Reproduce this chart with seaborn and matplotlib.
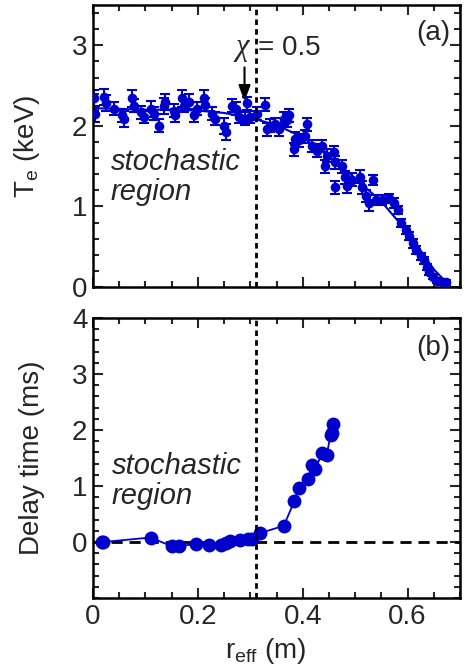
import numpy as np
import pandas as pd
import matplotlib
matplotlib.use("Agg")
import matplotlib.pyplot as plt
import seaborn as sns
from matplotlib.ticker import MultipleLocator, FuncFormatter, FixedLocator

sns.set_theme(style="ticks")
plt.rcParams['font.family'] = ['Liberation Sans', 'DejaVu Sans']
plt.rcParams['mathtext.fontset'] = 'custom'
plt.rcParams['mathtext.rm'] = 'Liberation Sans'
plt.rcParams['mathtext.it'] = 'Liberation Sans:italic'

# ---- panel (a): electron temperature profile ----
te_r = [0.002, 0.004, 0.021, 0.024, 0.040, 0.056, 0.059, 0.075, 0.078, 0.091,
        0.097, 0.110, 0.116, 0.126, 0.135, 0.138, 0.154, 0.157, 0.170, 0.173,
        0.183, 0.192, 0.198, 0.211, 0.213, 0.227, 0.233, 0.250, 0.253, 0.265,
        0.272, 0.278, 0.290, 0.294, 0.300, 0.313, 0.329, 0.332, 0.338, 0.348,
        0.354, 0.364, 0.370, 0.373, 0.383, 0.386, 0.392, 0.405, 0.408, 0.418,
        0.427, 0.437, 0.443, 0.446, 0.459, 0.462, 0.462, 0.475, 0.481, 0.484,
        0.494, 0.510, 0.513, 0.520, 0.527, 0.535, 0.540, 0.552, 0.565, 0.575,
        0.581, 0.587, 0.597, 0.603, 0.610, 0.616, 0.625, 0.632, 0.638, 0.641,
        0.648, 0.657, 0.667, 0.674]
te_val = [2.34, 2.15, 2.36, 2.28, 2.21, 2.13, 2.09, 2.34, 2.25, 2.17,
          2.11, 2.21, 2.15, 2.00, 2.25, 2.30, 2.19, 2.13, 2.34, 2.25,
          2.30, 2.13, 2.21, 2.34, 2.26, 2.15, 2.09, 2.00, 1.92, 2.25,
          2.21, 2.11, 2.09, 2.28, 2.11, 2.15, 2.26, 1.96, 2.00, 2.02,
          1.96, 2.09, 2.07, 2.13, 1.71, 1.84, 1.82, 1.87, 2.02, 1.75,
          1.69, 1.75, 1.50, 1.63, 1.67, 1.55, 1.24, 1.50, 1.36, 1.25,
          1.33, 1.37, 1.24, 1.13, 1.04, 1.33, 1.08, 1.08, 1.10, 1.04,
          0.96, 0.80, 0.71, 0.63, 0.54, 0.46, 0.38, 0.33, 0.25, 0.19,
          0.13, 0.08, 0.06, 0.06]
te_err = [0.10, 0.10, 0.10, 0.10, 0.08, 0.08, 0.10, 0.10, 0.08, 0.08,
          0.08, 0.10, 0.08, 0.08, 0.10, 0.10, 0.08, 0.08, 0.10, 0.08,
          0.10, 0.08, 0.08, 0.10, 0.08, 0.08, 0.08, 0.10, 0.10, 0.08,
          0.08, 0.08, 0.08, 0.08, 0.08, 0.08, 0.08, 0.08, 0.08, 0.08,
          0.08, 0.08, 0.08, 0.08, 0.08, 0.08, 0.08, 0.08, 0.08, 0.08,
          0.08, 0.08, 0.08, 0.08, 0.08, 0.08, 0.08, 0.08, 0.08, 0.08,
          0.08, 0.08, 0.08, 0.08, 0.10, 0.06, 0.06, 0.06, 0.06, 0.06,
          0.05, 0.05, 0.05, 0.05, 0.05, 0.05, 0.04, 0.04, 0.04, 0.04,
          0.03, 0.03, 0.03, 0.03]
fit_r = [0.0, 0.05, 0.10, 0.15, 0.20, 0.25, 0.30, 0.35, 0.40, 0.45, 0.50, 0.55, 0.60, 0.65, 0.675]
fit_val = [2.22, 2.21, 2.20, 2.20, 2.19, 2.16, 2.10, 2.01, 1.86, 1.62, 1.35, 1.06, 0.68, 0.22, 0.05]

# ---- panel (b): delay time ----
dl_r = [0.018, 0.020, 0.110, 0.151, 0.164, 0.196, 0.222, 0.245, 0.253, 0.262,
        0.281, 0.296, 0.303, 0.319, 0.364, 0.384, 0.392, 0.410, 0.418, 0.424,
        0.437, 0.446, 0.453, 0.456, 0.458]
dl_val = [0.00, 0.00, 0.08, -0.08, -0.07, -0.04, -0.06, -0.05, -0.02, 0.01,
          0.04, 0.06, 0.05, 0.16, 0.29, 0.73, 0.97, 1.13, 1.37, 1.30,
          1.59, 1.56, 1.91, 1.95, 2.11]

x_ticks = [0, 0.2, 0.4, 0.6]
x_ticklabels = ["0", "0.2", "0.4", "0.6"]
te_yticks = [0, 1, 2, 3]
dl_yticks = [0, 1, 2, 3, 4]

chi_r = 0.31
blue = "#0000cd"
fs = 20

df_te = pd.DataFrame({"r": te_r, "Te": te_val, "err": te_err})
df_fit = pd.DataFrame({"r": fit_r, "Te": fit_val})
df_dl = pd.DataFrame({"r": dl_r, "d": dl_val})

fig = plt.figure(figsize=(4.65, 6.71), dpi=100)
W, H = 465, 671
ax1 = fig.add_axes([93 / W, (H - 287) / H, 367 / W, 282 / H])
ax2 = fig.add_axes([93 / W, (H - 598) / H, 367 / W, 280 / H])

# panel a
ax1.errorbar(df_te["r"], df_te["Te"], yerr=df_te["err"], fmt='none',
             ecolor=blue, elinewidth=1.5, capsize=3.5, capthick=1.5, zorder=2)
sns.lineplot(data=df_fit, x="r", y="Te", ax=ax1, color=blue, lw=1.5, zorder=2)
sns.scatterplot(data=df_te, x="r", y="Te", ax=ax1, color=blue, s=48,
                edgecolor=blue, linewidth=0, zorder=3)
ax1.axvline(chi_r, color='black', ls=(0, (2, 1.5)), lw=2, zorder=4)
ax1.set_xlim(0, 0.7)
ax1.set_ylim(0, 3.5)
ax1.set_yticks(te_yticks)
ax1.set_yticklabels([str(v) for v in te_yticks])
ax1.yaxis.set_minor_locator(MultipleLocator(0.2))
ax1.set_xlabel("")
ax1.set_ylabel(r"T$_{\rm e}$ (keV)", fontsize=fs)
ax1.yaxis.set_label_coords(-0.14, 0.5)
ax1.text(0.682, 3.15, "(a)", fontsize=fs, ha='right', va='center')
ax1.text(0.034, 1.72, "stochastic\nregion", fontsize=fs + 1, style='italic',
         ha='left', va='top', linespacing=1.05)
ax1.text(0.272, 2.88, "χ", fontsize=fs + 2, ha='left', va='baseline',
         family=['Liberation Serif', 'DejaVu Serif'], style='italic')
ax1.text(0.315, 2.88, "= 0.5", fontsize=fs, ha='left', va='baseline')
ax1.annotate("", xy=(0.289, 2.27), xytext=(0.289, 2.76),
             arrowprops=dict(arrowstyle='-|>,head_length=0.8,head_width=0.3',
                             color='black', lw=1.5))

# panel b
ax2.axhline(0, color='black', ls=(0, (4, 2.5)), lw=2, zorder=1)
sns.lineplot(data=df_dl, x="r", y="d", ax=ax2, color=blue, lw=1.3,
             marker='o', markersize=10, markeredgewidth=0, sort=True, zorder=3)
ax2.axvline(chi_r, color='black', ls=(0, (2, 1.5)), lw=2, zorder=4)
ax2.set_xlim(0, 0.7)
ax2.set_ylim(-1, 4)
ax2.set_yticks(dl_yticks)
ax2.set_yticklabels([str(v) for v in dl_yticks])
ax2.yaxis.set_minor_locator(MultipleLocator(0.2))
ax2.set_ylabel("Delay time (ms)", fontsize=fs)
ax2.yaxis.set_label_coords(-0.13, 0.5)
ax2.set_xlabel(r"r$_{\rm eff}$ (m)", fontsize=fs)
ax2.xaxis.set_label_coords(0.47, -0.135)
ax2.text(0.682, 3.46, "(b)", fontsize=fs, ha='right', va='center')
ax2.text(0.036, 1.6, "stochastic\nregion", fontsize=fs + 1, style='italic',
         ha='left', va='top', linespacing=1.05)

for ax in (ax1, ax2):
    ax.set_xticks(x_ticks)
    ax.xaxis.set_minor_locator(MultipleLocator(0.05))
    ax.tick_params(which='both', direction='in', top=True, right=True,
                   labelsize=fs, width=1.5, pad=4)
    ax.tick_params(which='major', length=7)
    ax.tick_params(which='minor', length=4)
    for s in ax.spines.values():
        s.set_linewidth(1.8)
        s.set_color('black')
ax2.set_xticklabels(x_ticklabels)
ax1.tick_params(axis='x', labelbottom=False)

fig.savefig("out.png", dpi=100)
